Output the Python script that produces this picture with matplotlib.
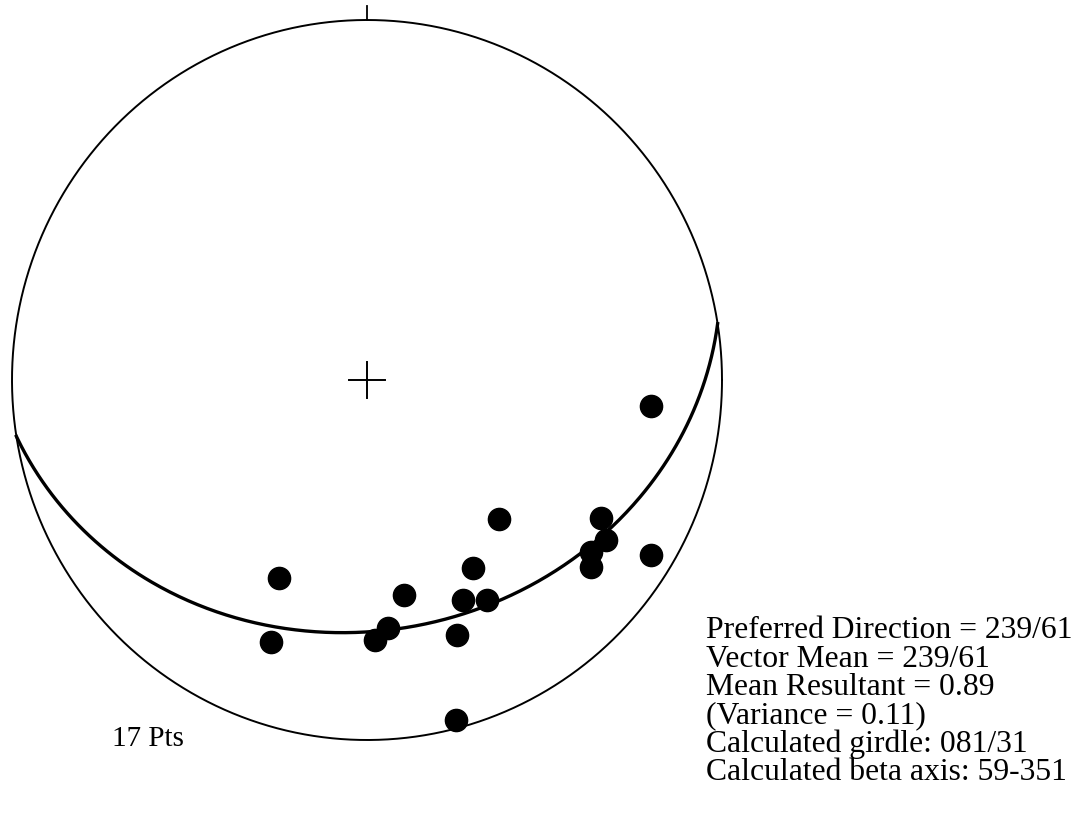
import numpy as np
import matplotlib
matplotlib.use("Agg")
import matplotlib.pyplot as plt

# Data: lower-hemisphere lineations (trend, plunge), degrees
trends = [95.2, 136.1, 120.3, 123.4, 127.1, 129.4, 121.2, 204.4, 150.2,
          170.1, 156.2, 151.0, 175.1, 178.2, 160.2, 200.3, 165.2]
plunges = [20.7, 45.4, 24.8, 20.6, 22.1, 19.5, 7.1, 39.5, 39.5,
           39.3, 33.7, 30.8, 31.4, 28.5, 25.7, 23.4, 2.7]

girdle_strike = 81.0   # calculated girdle 081/31 (right-hand rule)
girdle_dip = 31.0

stats_lines = [
    "Preferred Direction = 239/61",
    "Vector Mean = 239/61",
    "Mean Resultant = 0.89",
    "(Variance = 0.11)",
    "Calculated girdle: 081/31",
    "Calculated beta axis: 59-351",
]
count_label = "17 Pts"


def project(trend_deg, plunge_deg):
    t = np.radians(trend_deg)
    p = np.radians(plunge_deg)
    r = np.sqrt(2.0) * np.sin((np.pi / 2 - p) / 2.0)
    return r * np.sin(t), r * np.cos(t)


def line_vec(trend_deg, plunge_deg):
    t = np.radians(trend_deg)
    p = np.radians(plunge_deg)
    return np.array([np.sin(t) * np.cos(p), np.cos(t) * np.cos(p), np.sin(p)])


W, H = 1084, 835
fig = plt.figure(figsize=(W / 100, H / 100), dpi=100)
cx, cy, Rx, Ry = 367, 380, 355, 360
ax = fig.add_axes([(cx - Rx) / W, (H - cy - Ry) / H, 2 * Rx / W, 2 * Ry / H])
ax.set_xlim(-1, 1)
ax.set_ylim(-1, 1)
ax.axis('off')

# primitive circle
th = np.linspace(0, 2 * np.pi, 720)
ax.plot(np.cos(th), np.sin(th), color='black', lw=1.4, clip_on=False)
# north tick
ax.plot([0, 0], [1.0, 1.04], color='black', lw=1.3, clip_on=False)
# center cross
ax.plot([-0.05, 0.05], [0, 0], color='black', lw=1.4)
ax.plot([0, 0], [-0.05, 0.05], color='black', lw=1.4)

# girdle great circle
sv = line_vec(girdle_strike, 0.0)
dv = line_vec(girdle_strike + 90.0, girdle_dip)
a = np.radians(np.linspace(0, 180, 361))
vecs = np.outer(np.cos(a), sv) + np.outer(np.sin(a), dv)
vp = np.degrees(np.arcsin(np.clip(vecs[:, 2], -1, 1)))
vt = np.degrees(np.arctan2(vecs[:, 0], vecs[:, 1]))
gx, gy = project(vt, vp)
ax.plot(gx, gy, color='black', lw=2.4, clip_on=False)

# data points
px, py = project(np.array(trends), np.array(plunges))
ax.plot(px, py, 'o', color='black', markersize=16, clip_on=False)

serif = ['Liberation Serif', 'DejaVu Serif']
y0, dy = 638.5, 28.3
for i, s in enumerate(stats_lines):
    fig.text(706 / W, 1 - (y0 + i * dy) / H, s, fontsize=22.8,
             family=serif, va='baseline', ha='left')
fig.text(112 / W, 1 - 746 / H, count_label, fontsize=21, family=serif,
         va='baseline', ha='left')

fig.savefig('out.png', dpi=100, facecolor='white')
